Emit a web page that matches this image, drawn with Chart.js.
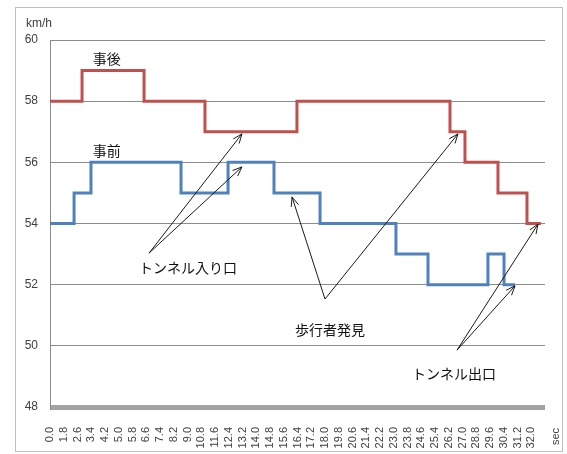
<!DOCTYPE html>
<html>
<head>
<meta charset="utf-8">
<script src="https://cdn.jsdelivr.net/npm/chart.js@4/dist/chart.umd.min.js"></script>
<style>
  html, body { margin: 0; padding: 0; background: #fff; }
  canvas { display: block; }
</style>
</head>
<body>
<canvas id="c" width="567" height="454"></canvas>
<script>
// Elapsed-time labels along the horizontal axis (seconds)
const timeLabels = ['0.0','1.8','2.6','3.4','4.2','5.0','5.8','6.6','7.4','8.2','9.0','10.8',
  '11.6','12.4','13.2','14.0','14.8','15.6','16.4','17.2','18.0','19.8','20.6','21.4','22.2',
  '23.0','23.8','24.6','25.4','26.2','27.0','28.8','29.6','30.4','31.2','32.0'];

// Speed tick values (km/h)
const speedTicks = [48, 50, 52, 54, 56, 58, 60];

// 事後: position (in label steps) where each speed level begins, and its speed
const afterStepPos = [0, 2.33, 6.84, 11.27, 17.96, 29.09, 30.18, 32.58, 34.69, 35.71];
const afterSpeed   = [58, 59, 58, 57, 58, 57, 56, 55, 54, 54];

// 事前: position (in label steps) where each speed level begins, and its speed
const beforeStepPos = [0, 1.75, 2.98, 9.53, 12.95, 16.29, 19.64, 25.16, 27.49, 31.85, 33.02, 33.82];
const beforeSpeed   = [54, 55, 56, 55, 56, 55, 54, 53, 52, 53, 52, 52];

// Callout texts and arrows, anchored in axis units
const notes = [
  { text: '事後',           x: 4.12,  y: 59.40 },
  { text: '事前',           x: 4.12,  y: 56.37 },
  { text: 'トンネル入り口', x: 10.04, y: 52.54 },
  { text: '歩行者発見',     x: 20.36, y: 50.53 },
  { text: 'トンネル出口',   x: 29.38, y: 49.09 }
];
const arrows = [
  { from: [7.20, 53.03],  to: [[13.96, 56.93], [13.96, 55.85]] },
  { from: [20.00, 51.53], to: [[17.60, 54.87], [29.67, 56.93]] },
  { from: [29.60, 49.86], to: [[35.49, 53.98], [33.82, 51.96]] }
];

const toPoints = (xs, ys) => xs.map((x, i) => ({ x, y: ys[i] }));

const TICK_COLOR = '#404040';
const GRID_COLOR = '#8c8c8c';

const decorations = {
  id: 'decorations',
  beforeDraw(chart) {
    const ctx = chart.ctx;
    ctx.save();
    ctx.fillStyle = '#ffffff';
    ctx.fillRect(0, 0, chart.width, chart.height);
    ctx.strokeStyle = '#bfbfbf';
    ctx.lineWidth = 1;
    ctx.strokeRect(15.5, 7.5, 547, 444);
    ctx.restore();
  },
  afterDatasetsDraw(chart) {
    const ctx = chart.ctx;
    const xs = chart.scales.x, ys = chart.scales.y;
    const px = v => xs.getPixelForValue(v);
    const py = v => ys.getPixelForValue(v);
    ctx.save();

    // unit label and axis caption
    ctx.fillStyle = TICK_COLOR;
    ctx.font = '12px "Liberation Sans", Arial, sans-serif';
    ctx.textAlign = 'left';
    ctx.textBaseline = 'middle';
    ctx.fillText('km/h', 26, 24);
    ctx.save();
    ctx.translate(556, 428);
    ctx.rotate(-Math.PI / 2);
    ctx.font = '11px "Liberation Sans", Arial, sans-serif';
    ctx.textAlign = 'right';
    ctx.fillText('sec', 0, 0);
    ctx.restore();

    // arrows
    ctx.strokeStyle = '#1a1a1a';
    ctx.lineWidth = 1;
    arrows.forEach(a => {
      const x0 = px(a.from[0]), y0 = py(a.from[1]);
      a.to.forEach(t => {
        const x1 = px(t[0]), y1 = py(t[1]);
        ctx.beginPath();
        ctx.moveTo(x0, y0);
        ctx.lineTo(x1, y1);
        ctx.stroke();
        const ang = Math.atan2(y1 - y0, x1 - x0);
        const len = 10, spread = 0.38;
        ctx.beginPath();
        ctx.moveTo(x1 - len * Math.cos(ang - spread), y1 - len * Math.sin(ang - spread));
        ctx.lineTo(x1, y1);
        ctx.lineTo(x1 - len * Math.cos(ang + spread), y1 - len * Math.sin(ang + spread));
        ctx.stroke();
      });
    });

    // callout texts
    ctx.fillStyle = '#111111';
    ctx.font = '14px "Noto Sans CJK JP", sans-serif';
    ctx.textAlign = 'center';
    ctx.textBaseline = 'middle';
    notes.forEach(n => ctx.fillText(n.text, px(n.x), py(n.y)));
    ctx.restore();
  }
};

new Chart(document.getElementById('c'), {
  type: 'line',
  data: {
    datasets: [
      {
        label: '事後',
        data: toPoints(afterStepPos, afterSpeed),
        borderColor: '#c0504d',
        borderWidth: 3,
        stepped: 'before',
        pointRadius: 0,
        fill: false
      },
      {
        label: '事前',
        data: toPoints(beforeStepPos, beforeSpeed),
        borderColor: '#4f81bd',
        borderWidth: 3,
        stepped: 'before',
        pointRadius: 0,
        fill: false
      }
    ]
  },
  options: {
    responsive: false,
    animation: false,
    layout: { padding: { left: 0, top: 40, right: 22, bottom: 0 } },
    plugins: { legend: { display: false }, tooltip: { enabled: false } },
    scales: {
      x: {
        type: 'linear',
        min: 0,
        max: 36,
        grid: { display: false, drawTicks: false },
        border: { display: false },
        afterBuildTicks: s => { s.ticks = timeLabels.map((_, i) => ({ value: i })); },
        afterFit: s => { s.height = 47; },
        ticks: {
          autoSkip: false,
          minRotation: 90,
          maxRotation: 90,
          padding: 20,
          color: TICK_COLOR,
          font: { family: '"Liberation Sans", Arial, sans-serif', size: 11 },
          callback: v => timeLabels[v] ?? ''
        }
      },
      y: {
        min: 48,
        max: 60,
        afterBuildTicks: s => { s.ticks = speedTicks.map(v => ({ value: v })); },
        afterFit: s => { s.width = 50; },
        grid: {
          drawTicks: false,
          color: c => (c.tick && c.tick.value === 48) ? '#a3a3a3' : GRID_COLOR,
          lineWidth: c => (c.tick && c.tick.value === 48) ? 5 : 1
        },
        border: { display: true, color: GRID_COLOR, width: 1 },
        ticks: {
          padding: 12,
          color: TICK_COLOR,
          font: { family: '"Liberation Sans", Arial, sans-serif', size: 12 }
        }
      }
    }
  },
  plugins: [decorations]
});
</script>
</body>
</html>
